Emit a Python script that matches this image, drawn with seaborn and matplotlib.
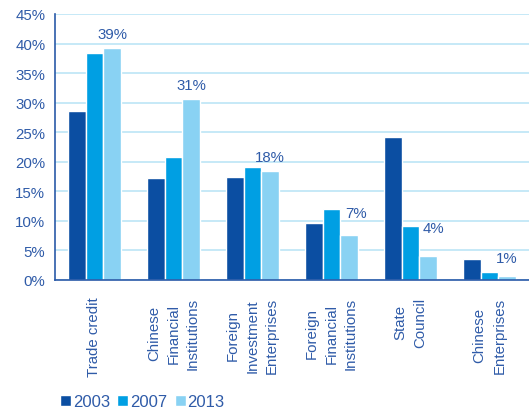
import matplotlib
matplotlib.use("Agg")
import matplotlib.pyplot as plt
import seaborn as sns
import pandas as pd

categories = ["Trade credit", "Chinese\nFinancial\nInstitutions", "Foreign\nInvestment\nEnterprises",
              "Foreign\nFinancial\nInstitutions", "State\nCouncil", "Chinese\nEnterprises"]
years = ["2003", "2007", "2013"]
v2003 = [28.6, 17.3, 17.4, 9.6, 24.2, 3.6]
v2007 = [38.4, 20.8, 19.1, 12.0, 9.1, 1.4]
v2013 = [39.3, 30.6, 18.4, 7.6, 4.1, 0.7]
labels_2013 = ["39%", "31%", "18%", "7%", "4%", "1%"]
yticks = [0, 5, 10, 15, 20, 25, 30, 35, 40, 45]

rows = []
for yr, vals in zip(years, [v2003, v2007, v2013]):
    for c, v in zip(categories, vals):
        rows.append({"cat": c, "year": yr, "val": v})
df = pd.DataFrame(rows)

sns.set_style("white")
plt.rcParams['font.family'] = ['Liberation Sans', 'DejaVu Sans']
txt = "#2f5ba8"
palette = {"2003": "#0b4ea2", "2007": "#009fe3", "2013": "#89d2f3"}

fig = plt.figure(figsize=(5.29, 4.14), dpi=100)
ax = fig.add_axes([55/529, 133/414, 474/529, 266/414])
sns.barplot(data=df, x="cat", y="val", hue="year", palette=palette, width=0.67,
            saturation=1, ax=ax, legend=True, order=categories, hue_order=years)

ax.set_ylim(0, 45)
ax.set_xlim(-0.5, len(categories) - 0.5)
ax.set_yticks(yticks)
ax.set_yticklabels([f"{t}%" for t in yticks], color=txt, fontsize=10.8)
ax.yaxis.grid(True, color="#c6e9f7", linewidth=1.4)
ax.set_axisbelow(True)
ax.set_xlabel("")
ax.set_ylabel("")

# x ticks at category boundaries, labels in between
ax.set_xticks([i - 0.5 for i in range(len(categories) + 1)])
ax.set_xticklabels([])
ax.set_xticks(range(len(categories)), minor=True)
ax.set_xticklabels(categories, minor=True, rotation=90, color=txt, fontsize=10.8,
                   linespacing=1.5, va="top", ha="center", multialignment="center")
ax.tick_params(axis="x", which="minor", length=0, pad=12)
ax.tick_params(axis="x", which="major", length=5, width=1, color="#2a5aa8", direction="out")
ax.tick_params(axis="y", length=5, width=1, color="#2a5aa8", direction="out", pad=2)

for s in ["top", "right"]:
    ax.spines[s].set_visible(False)
for s in ["left", "bottom"]:
    ax.spines[s].set_color("#2a5aa8")
    ax.spines[s].set_linewidth(1.2)

# labels above the 2013 bars (offsets in points)
label_dx = [0, 0, 0, 5, 4, 0]
label_dy = [5, 5, 5, 11, 15, 8]
cont = ax.containers[2]
for bar, lab, dx, dy in zip(cont, labels_2013, label_dx, label_dy):
    ax.annotate(lab, (bar.get_x() + bar.get_width() / 2, bar.get_height()),
                xytext=(dx, dy), textcoords="offset points", ha="center", va="bottom",
                color=txt, fontsize=10.8)

leg = ax.legend(loc="center left", bbox_to_anchor=(60/529, 11/414), bbox_transform=fig.transFigure,
                ncol=3, frameon=False, fontsize=12, handlelength=0.66, handleheight=0.66,
                handletextpad=0.1, columnspacing=0.45, borderaxespad=0, borderpad=0)
for t in leg.get_texts():
    t.set_color(txt)

fig.savefig("out.png", dpi=100)
